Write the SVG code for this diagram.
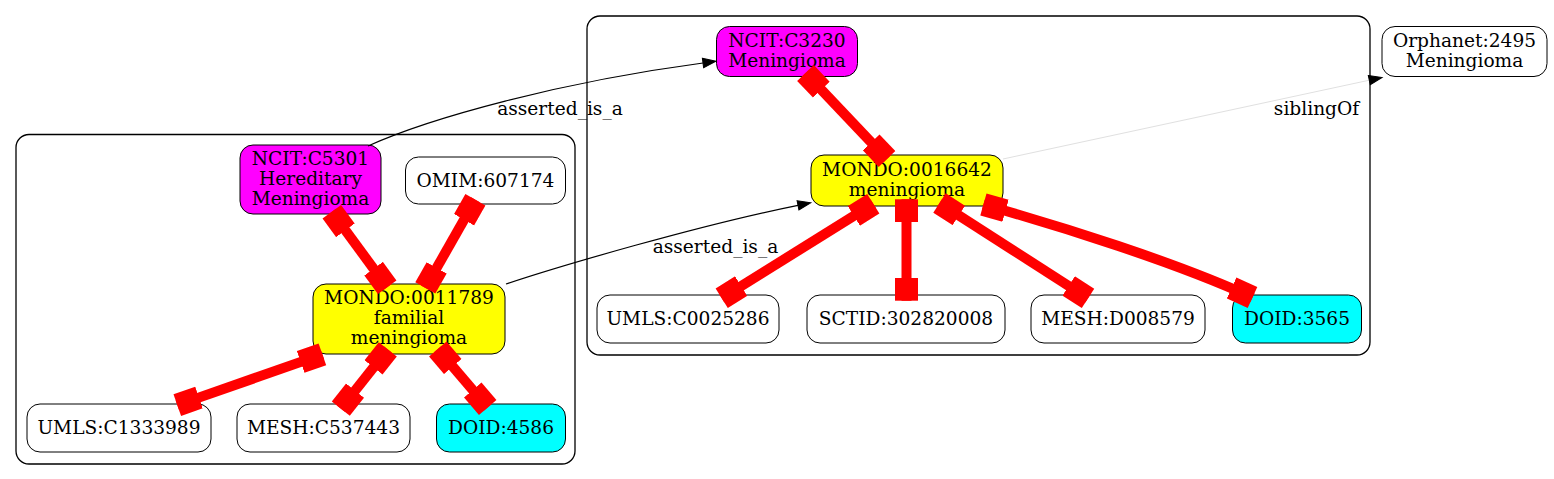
<svg xmlns="http://www.w3.org/2000/svg" width="1554" height="479" viewBox="0 0 1554 479">
<style>
.cl{fill:none;stroke:#000;stroke-width:1.3}
.nd{stroke:#000;stroke-width:1}
.w{fill:#fff}.m{fill:#ff00ff}.y{fill:#ffff00}.c{fill:#00ffff}
text{font-family:"DejaVu Serif","Liberation Serif",serif;font-size:18.6px;fill:#000;text-anchor:middle}
.red{fill:none;stroke:#ff0000;stroke-width:10;marker-start:url(#bx);marker-end:url(#bx)}
.blk{fill:none;stroke:#000;stroke-width:1.2;marker-end:url(#ar)}
.sib{fill:none;stroke:#e0e0e0;stroke-width:1;marker-end:url(#ar)}
</style>
<defs>
<marker id="bx" markerUnits="userSpaceOnUse" markerWidth="24" markerHeight="24" viewBox="0 -12 24 24" refX="23" refY="0" orient="auto-start-reverse"><rect x="0" y="-11.5" width="23" height="23" fill="#ff0000"/></marker>
<marker id="ar" markerUnits="userSpaceOnUse" markerWidth="16" markerHeight="12" viewBox="-1 -6 16 12" refX="0" refY="0" orient="auto"><path d="M0,-4.7 L13,0 L0,4.7 Z" fill="#000" stroke="#000" stroke-width="1"/></marker>
</defs>
<rect fill="#fff" width="1554" height="479"/>
<g id="clusters">
<rect class="cl" x="16" y="134.5" width="559" height="329.5" rx="13"/>
<rect class="cl" x="587" y="16" width="783" height="339" rx="13"/>
</g>
<g id="n_ncit_c3230"><rect class="nd m" x="716.5" y="26.5" width="141" height="50" rx="13"/><text x="787" y="46.5">NCIT:C3230</text><text x="787" y="66.5">Meningioma</text></g>
<g id="n_orphanet_2495"><rect class="nd w" x="1382" y="26.5" width="165" height="50" rx="13"/><text x="1464.5" y="46.5">Orphanet:2495</text><text x="1464.5" y="66.5">Meningioma</text></g>
<g id="n_mondo_0016642"><rect class="nd y" x="811" y="155" width="192" height="51" rx="13"/><text x="907" y="175.5">MONDO:0016642</text><text x="907" y="195.5">meningioma</text></g>
<g id="n_umls_c0025286"><rect class="nd w" x="597" y="295" width="182" height="48" rx="13"/><text x="688" y="325">UMLS:C0025286</text></g>
<g id="n_sctid_302820008"><rect class="nd w" x="807" y="295" width="198" height="48" rx="13"/><text x="906" y="325">SCTID:302820008</text></g>
<g id="n_mesh_d008579"><rect class="nd w" x="1031" y="295" width="174" height="48" rx="13"/><text x="1118" y="325">MESH:D008579</text></g>
<g id="n_doid_3565"><rect class="nd c" x="1232.5" y="295" width="129" height="48" rx="13"/><text x="1297" y="325">DOID:3565</text></g>
<g id="n_ncit_c5301"><rect class="nd m" x="240" y="145" width="141" height="69" rx="13"/><text x="310.5" y="165">NCIT:C5301</text><text x="310.5" y="185">Hereditary</text><text x="310.5" y="204.5">Meningioma</text></g>
<g id="n_omim_607174"><rect class="nd w" x="405.5" y="157" width="160" height="47" rx="13"/><text x="485.5" y="186.5">OMIM:607174</text></g>
<g id="n_mondo_0011789"><rect class="nd y" x="313" y="284" width="192" height="70" rx="13"/><text x="409" y="303.5">MONDO:0011789</text><text x="409" y="323.5">familial</text><text x="409" y="343.5">meningioma</text></g>
<g id="n_umls_c1333989"><rect class="nd w" x="27" y="404" width="184" height="48" rx="13"/><text x="119" y="434">UMLS:C1333989</text></g>
<g id="n_mesh_c537443"><rect class="nd w" x="237" y="404" width="173" height="48" rx="13"/><text x="323.5" y="434">MESH:C537443</text></g>
<g id="n_doid_4586"><rect class="nd c" x="436.5" y="404" width="129" height="48" rx="13"/><text x="501" y="434">DOID:4586</text></g>
<g id="edges">
<path class="red" d="M805.5,73 L887,159"/>
<path class="red" d="M873.3,203.7 L721.7,298.3"/>
<path class="red" d="M906.5,199.3 L906.5,300.7"/>
<path class="red" d="M939.5,203 L1088,298.4"/>
<path class="red" d="M983.4,204.5 C1060,226 1175,262 1252.5,297.5"/>
<path class="red" d="M331.8,211.8 L387.2,287.2"/>
<path class="red" d="M475.4,199.7 L425.3,287.9"/>
<path class="red" d="M322.4,354.4 L177.3,405.1"/>
<path class="red" d="M387.8,349.4 L340.8,408.6"/>
<path class="red" d="M437.8,349.1 L487.7,407.4"/>
<path class="blk" d="M368,146 C430,118 560,82 703,63"/>
<path class="blk" d="M506,284 C560,266 700,225 798,205.3"/>
<path class="sib" d="M1003,159 L1369.3,80.2"/>
<text x="560" y="115">asserted_is_a</text>
<text x="715.5" y="253">asserted_is_a</text>
<text x="1316.5" y="115">siblingOf</text>
</g>
</svg>
